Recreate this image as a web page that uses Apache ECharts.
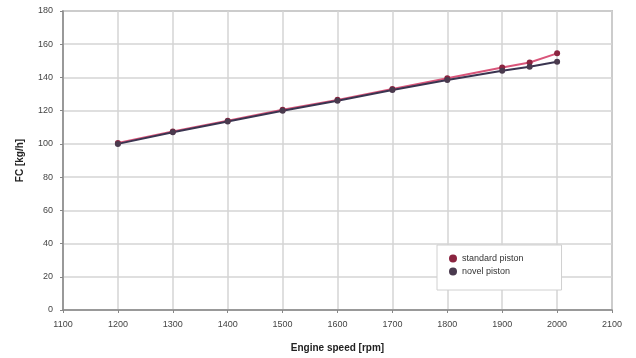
<!DOCTYPE html>
<html>
<head>
<meta charset="utf-8">
<script src="https://cdn.jsdelivr.net/npm/echarts@6/dist/echarts.min.js"></script>
<style>
  html, body { margin: 0; padding: 0; background: #ffffff; }
  #chart { width: 636px; height: 358px; }
</style>
</head>
<body>
<div id="chart"></div>
<script>
// Fuel consumption against engine speed for two piston designs
const engineSpeed = [1200, 1300, 1400, 1500, 1600, 1700, 1800, 1900, 1950, 2000];
const standardPiston = [100.5, 107.5, 114, 120.5, 126.5, 133, 139.5, 146, 149, 154.5];
const novelPiston = [100, 107, 113.5, 120, 126, 132.5, 138.5, 144, 146.5, 149.5];

const pairs = (xs, ys) => xs.map((x, i) => [x, ys[i]]);

const chart = echarts.init(document.getElementById('chart'));
chart.setOption({
  animation: false,
  backgroundColor: '#ffffff',
  grid: { left: 63, right: 24, top: 11, bottom: 48, show: true, borderColor: '#9a9a9a', borderWidth: 1.5 },
  xAxis: {
    type: 'value', min: 1100, max: 2100, interval: 100,
    name: 'Engine speed [rpm]', nameLocation: 'middle', nameGap: 33,
    nameTextStyle: { fontFamily: 'Liberation Sans', fontSize: 10, fontWeight: 'bold', color: '#222' },
    axisLine: { show: true, onZero: false, lineStyle: { color: '#888', width: 1.5 } },
    axisTick: { show: true, lineStyle: { color: '#888' }, length: 3 },
    axisLabel: { fontFamily: 'Liberation Sans', fontSize: 9, color: '#444', margin: 10, formatter: v => String(v) },
    splitLine: { show: true, lineStyle: { color: '#d4d4d4', width: 1.5 } }
  },
  yAxis: {
    type: 'value', min: 0, max: 180, interval: 20,
    name: 'FC [kg/h]', nameLocation: 'middle', nameGap: 38,
    nameTextStyle: { fontFamily: 'Liberation Sans', fontSize: 10, fontWeight: 'bold', color: '#222' },
    axisLine: { show: true, lineStyle: { color: '#888', width: 1.5 } },
    axisTick: { show: true, lineStyle: { color: '#888' }, length: 3 },
    axisLabel: { fontFamily: 'Liberation Sans', fontSize: 9, color: '#444', margin: 10 },
    splitLine: { show: true, lineStyle: { color: '#d4d4d4', width: 1.5 } }
  },
  legend: {
    left: 437, top: 245,
    orient: 'vertical', itemGap: 4, padding: [9, 38, 14, 12],
    backgroundColor: '#ffffff', borderColor: '#d0d0d0', borderWidth: 1,
    itemWidth: 8, itemHeight: 8, icon: 'circle',
    textStyle: { fontFamily: 'Liberation Sans', fontSize: 9, color: '#333' },
    data: ['standard piston', 'novel piston']
  },
  series: [
    {
      name: 'standard piston', type: 'line', data: pairs(engineSpeed, standardPiston),
      symbol: 'circle', symbolSize: 6,
      lineStyle: { color: '#d9557a', width: 2 },
      itemStyle: { color: '#8a2440' }
    },
    {
      name: 'novel piston', type: 'line', data: pairs(engineSpeed, novelPiston),
      symbol: 'circle', symbolSize: 6,
      lineStyle: { color: '#3a3450', width: 2 },
      itemStyle: { color: '#4a3a4e' }
    }
  ]
});
</script>
</body>
</html>
